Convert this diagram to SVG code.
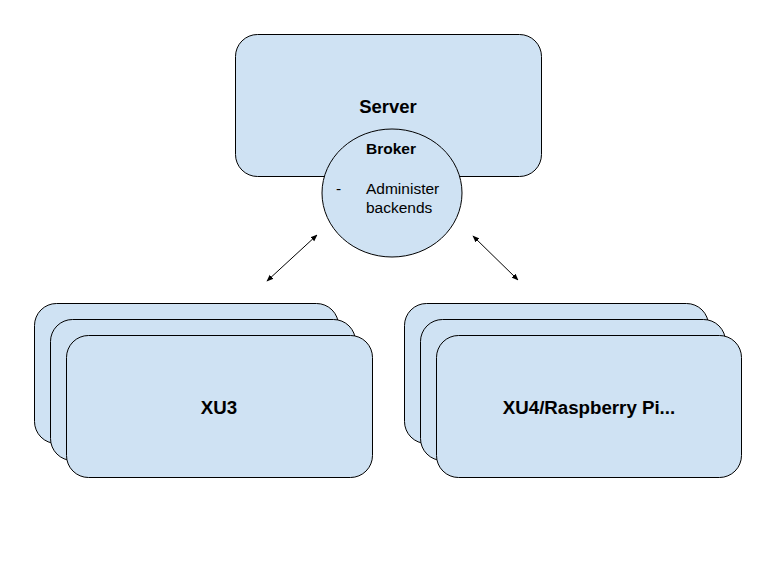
<svg xmlns="http://www.w3.org/2000/svg" width="780" height="563" viewBox="0 0 780 563">
<style>
.box{fill:#cfe2f3;stroke:#000;stroke-width:1}
.t{font-family:"Liberation Sans",Arial,sans-serif;fill:#000}
.b{font-weight:bold}
.ln{stroke:#000;stroke-width:1;fill:none;marker-start:url(#ah);marker-end:url(#ah)}
</style>
<defs>
<marker id="ah" viewBox="0 0 10 10" refX="9" refY="5" markerWidth="7" markerHeight="7" orient="auto-start-reverse" markerUnits="userSpaceOnUse">
<path d="M0,1 L10,5 L0,9 z" fill="#000"/>
</marker>
</defs>
<rect width="780" height="563" fill="#fff"/>
<g id="server">
<rect class="box" x="235.5" y="34.5" width="306" height="142" rx="22"/>
<text class="t b" x="388" y="113" font-size="18.5" text-anchor="middle">Server</text>
</g>
<g id="broker">
<ellipse class="box" cx="392" cy="193" rx="70" ry="64"/>
<text class="t b" x="391" y="154" font-size="15.5" text-anchor="middle">Broker</text>
<text class="t" x="336" y="194" font-size="15.5">-</text>
<text class="t" x="366" y="194" font-size="15.5">Administer</text>
<text class="t" x="366" y="213" font-size="15.5">backends</text>
</g>
<g id="xu3">
<rect class="box" x="34.5" y="303.5" width="304" height="140" rx="22"/>
<rect class="box" x="50.5" y="319.5" width="305" height="141" rx="22"/>
<rect class="box" x="66.5" y="335.5" width="306" height="142" rx="22"/>
<text class="t b" x="219" y="414" font-size="18.7" text-anchor="middle">XU3</text>
</g>
<g id="xu4">
<rect class="box" x="404.5" y="303.5" width="304" height="140" rx="22"/>
<rect class="box" x="420.5" y="319.5" width="305" height="141" rx="22"/>
<rect class="box" x="436.5" y="335.5" width="305" height="142" rx="22"/>
<text class="t b" x="589" y="414" font-size="18.7" text-anchor="middle">XU4/Raspberry Pi...</text>
</g>
<g id="connectors">
<line class="ln" x1="267" y1="281" x2="317" y2="235"/>
<line class="ln" x1="473" y1="236" x2="518" y2="280"/>
</g>
</svg>
